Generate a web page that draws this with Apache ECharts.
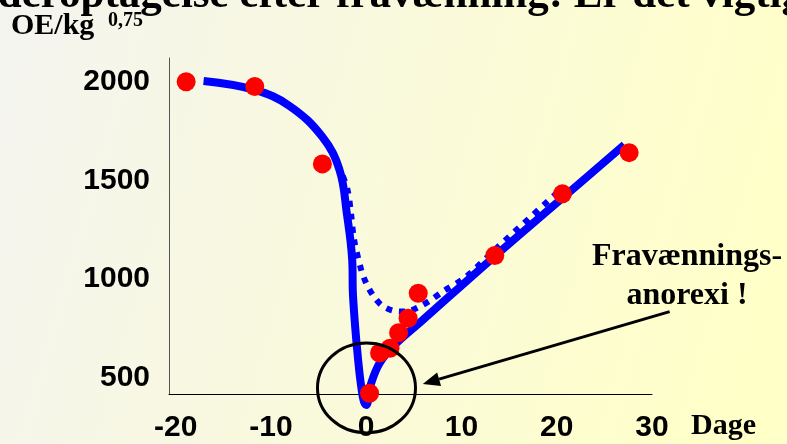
<!DOCTYPE html>
<html>
<head>
<meta charset="utf-8">
<script src="https://cdn.jsdelivr.net/npm/echarts@6/dist/echarts.min.js"></script>
<style>
html,body{margin:0;padding:0;}
#c{width:787px;height:444px;}
</style>
</head>
<body>
<div id="c"></div>
<script>
// ---- data ----
const xTickLabels = [-20, -10, 0, 10, 20, 30];
const yTickLabels = [500, 1000, 1500, 2000];
// measured intake (red dots): [day, OE/kg^0.75]
const measured = [
  [-18.9, 2000], [-11.7, 1975], [-4.6, 1583], [0.35, 420], [1.4, 624],
  [2.5, 648], [3.4, 727], [4.4, 800], [5.46, 927], [13.5, 1118],
  [20.6, 1431], [27.6, 1640]
];
// solid blue curve (actual course with weaning anorexia)
const solidCurve = [
  [-17.07, 2003], [-11.72, 1958], [-8.05, 1877], [-4.59, 1719], [-2.8, 1552],
  [-2.04, 1334], [-1.47, 1096], [-1.38, 910], [-0.88, 605], [-0.36, 402],
  [0, 360], [0.52, 470], [1.4, 572], [2.8, 656], [5.94, 791],
  [13.5, 1115], [20.6, 1410], [27.1, 1680]
];
// dotted blue curve (alternative course)
const dottedCurve = [
  [-3.54, 1643], [-2.7, 1552], [-1.96, 1451], [-1.6, 1334], [-1.28, 1200],
  [-0.52, 1045], [0, 978], [0.69, 918], [1.57, 868], [2.79, 839], [4.2, 834],
  [5.6, 859], [6.8, 893], [8.04, 935], [10.5, 1011], [13.5, 1147], [19.9, 1430]
];
const titleText = 'Foderoptagelse efter fravænning: Er det vigtigt?';
const yUnit = 'OE/kg';
const yUnitExp = '0,75';
const xUnit = 'Dage';
const noteLines = ['Fravænnings-', 'anorexi !'];

const chart = echarts.init(document.getElementById('c'));
const labelFont = {fontFamily: 'Liberation Sans, Arial, sans-serif', fontWeight: 'bold', fontSize: 30, color: '#000'};
const serif = 'Liberation Serif, Times New Roman, serif';

chart.setOption({
  animation: false,
  backgroundColor: {
    type: 'linear', x: 0, y: 0, x2: 1, y2: 0.5,
    colorStops: [{offset: 0, color: '#f4f4f0'}, {offset: 1, color: '#ffffc8'}]
  },
  grid: {left: 169, top: 58, right: 135, bottom: 50},
  xAxis: {
    type: 'value', min: -20.7, max: 30,
    axisLine: {show: true, onZero: false, lineStyle: {color: '#000', width: 1}},
    axisTick: {show: false},
    splitLine: {show: false},
    axisLabel: Object.assign({customValues: xTickLabels, margin: 19, formatter: v => String(v)}, labelFont)
  },
  yAxis: {
    type: 'value', min: 416, max: 2120,
    axisLine: {show: true, onZero: false, lineStyle: {color: '#555', width: 1}},
    axisTick: {show: false},
    splitLine: {show: false},
    axisLabel: Object.assign({customValues: yTickLabels, margin: 19, formatter: v => String(v)}, labelFont)
  },
  series: [
    {
      type: 'line', data: solidCurve, smooth: 0.4,
      showSymbol: false, clip: false, z: 2,
      lineStyle: {color: '#0000ff', width: 8, cap: 'butt'}
    },
    {
      type: 'line', data: dottedCurve, smooth: 0.3,
      showSymbol: false, clip: false, z: 3,
      lineStyle: {color: '#0000ff', width: 6, type: [6, 7]}
    },
    {
      type: 'scatter', data: measured, symbolSize: 19, clip: false, z: 4,
      itemStyle: {color: '#ff0000', opacity: 1}
    }
  ]
});

// annotations anchored to data coordinates
const cen = chart.convertToPixel({gridIndex: 0}, [0.03, 447]);
const a0 = chart.convertToPixel({gridIndex: 0}, [31.85, 834]);
const a1 = chart.convertToPixel({gridIndex: 0}, [5.94, 467]);
const dx = a1[0] - a0[0], dy = a1[1] - a0[1];
const len = Math.sqrt(dx * dx + dy * dy);
const ux = dx / len, uy = dy / len;
const hl = 17, hw = 7;
const base = [a1[0] - ux * hl, a1[1] - uy * hl];
const head = [
  a1,
  [base[0] - uy * hw, base[1] + ux * hw],
  [base[0] + uy * hw, base[1] - ux * hw]
];

chart.setOption({
  graphic: [
    {type: 'ellipse', shape: {cx: cen[0], cy: cen[1], rx: 49, ry: 45},
     style: {fill: 'none', stroke: '#000', lineWidth: 3}, z: 10},
    {type: 'line', shape: {x1: a0[0], y1: a0[1], x2: base[0], y2: base[1]},
     style: {stroke: '#000', lineWidth: 3}, z: 10},
    {type: 'polygon', shape: {points: head}, style: {fill: '#000'}, z: 10},
    {type: 'text', x: -50, y: -4, z: 10,
     style: {text: titleText, font: 'bold 43px ' + serif, fill: '#000', verticalAlign: 'middle', align: 'left'}},
    {type: 'text', x: 11, y: 26, z: 10,
     style: {text: yUnit, font: 'bold 30px ' + serif, fill: '#000', verticalAlign: 'middle', align: 'left'}},
    {type: 'text', x: 108, y: 21, z: 10,
     style: {text: yUnitExp, font: 'bold 20px ' + serif, fill: '#000', verticalAlign: 'middle', align: 'left'}},
    {type: 'text', x: 691, y: 426, z: 10,
     style: {text: xUnit, font: 'bold 30px ' + serif, fill: '#000', verticalAlign: 'middle', align: 'left'}},
    {type: 'text', x: 687, y: 257, z: 10,
     style: {text: noteLines[0], font: 'bold 32px ' + serif, fill: '#000', verticalAlign: 'middle', align: 'center'}},
    {type: 'text', x: 687, y: 295.5, z: 10,
     style: {text: noteLines[1], font: 'bold 32px ' + serif, fill: '#000', verticalAlign: 'middle', align: 'center'}}
  ]
});
</script>
</body>
</html>
